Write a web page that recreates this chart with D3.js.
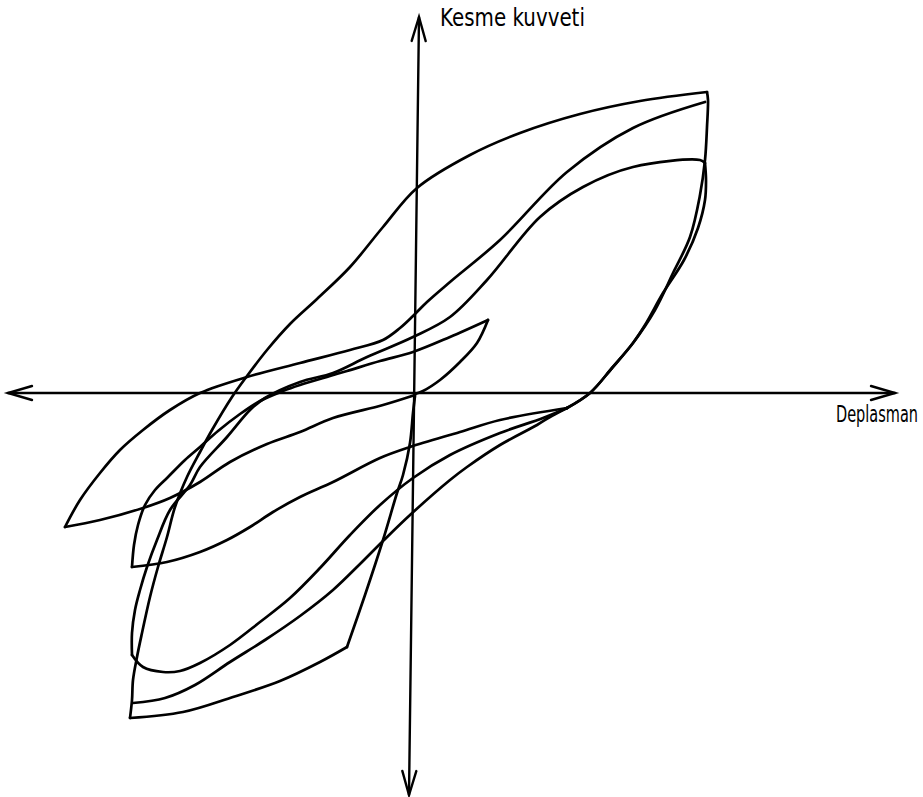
<!DOCTYPE html>
<html>
<head>
<meta charset="utf-8">
<script src="https://cdn.jsdelivr.net/npm/d3@7/dist/d3.min.js"></script>
<style>
  html, body { margin: 0; padding: 0; background: #fff; }
  svg { display: block; }
</style>
</head>
<body>
<svg id="chart" width="923" height="797"></svg>
<script>
// Shear force – displacement hysteresis of a cyclically loaded member.
// Every branch is a list of [displacement, shear force] pairs (arbitrary units).

const axisLabels = { x: "Deplasman", y: "Kesme kuvveti" };

// small positive excursion: unloading from its tip back to the origin
const smallTipToOrigin = [[7.5,7.3],[6.4,5.0],[4.7,3.1],[2.7,1.3],[1.0,0.2],[0.2,-0.1]];

// origin towards the first negative tip
const originToNegTip = [[0.2,-0.2],[-3.0,-1.2],[-8.0,-2.5],[-11.3,-3.9],[-14.6,-5.1],[-18.3,-6.9],
  [-21.3,-8.9],[-24.3,-10.5],[-27.0,-11.5],[-31.3,-12.7],[-34.8,-13.4]];

// negative tip reloaded up to the top peak (lower arrival)
const negTipToPeakB = [[-34.8,-13.4],[-33.3,-10.7],[-31.3,-8.0],[-29.3,-5.7],[-27.0,-3.7],[-24.3,-1.7],
  [-21.3,0],[-16.6,1.6],[-11.3,3.0],[-6.3,4.3],[-3.0,5.3],[-1.3,6.5],[0,7.7],[1.4,9.1],[3.7,11.1],
  [8.7,15.3],[15.4,22.1],[22.0,26.5],[29.2,29.1]];

// envelope loading branch from the lowest negative corner to the top peak
const envelopeUp = [[-28.3,-32.5],[-28.1,-30.7],[-28.0,-28.7],[-27.6,-26.4],[-27.1,-24.0],[-26.3,-20.4],
  [-25.5,-17.4],[-24.6,-14.4],[-23.8,-11.4],[-22.6,-8.4],[-21.3,-5.9],[-20.1,-3.7],[-18.1,-0.4],
  [-16.6,1.7],[-14.6,4.3],[-12.3,6.9],[-9.6,9.4],[-6.3,12.6],[-3.0,16.6],[0.4,20.5],[5.7,23.8],
  [10.7,26.0],[16.7,27.9],[22.7,29.2],[29.4,30.1]];

// unloading from the top peak
const peakAUnload = [[29.4,30.1],[29.5,29.3],[29.4,26.6],[29.2,23.3],[28.7,19.8],[27.7,15.6],[26.0,12.0],
  [24.2,8.3],[22.0,5.0],[19.9,2.5],[17.7,0],[15.4,-1.5]];

// loading from the rounded negative corner to the lower positive peak
const cornerToPeakC = [[-28.1,-26.2],[-28.1,-24.0],[-27.8,-21.7],[-27.3,-19.7],[-26.6,-17.4],[-25.6,-14.7],
  [-24.3,-11.7],[-22.3,-9.2],[-21.3,-7.4],[-18.6,-4.4],[-16.3,-1.7],[-14.8,-0.5],[-11.3,1.1],[-8.0,2.0],
  [-4.6,3.6],[0,5.6],[3.7,7.6],[7.4,11.3],[12.7,17.6],[17.0,20.6],[22.0,22.6],[28.7,23.3],[29.2,23.0]];

// unloading from the lower positive peak
const peakCUnload = [[29.2,23.0],[29.3,21.3],[29.2,19.3],[28.5,16.5],[27.1,13.3],[25.0,10.0],[23.2,6.8],
  [22.0,5.0],[19.9,2.5],[17.7,0],[15.4,-1.5]];

// three reversed branches fanning out below the displacement axis
const fanToMidCorner = [[15.4,-1.5],[8.7,-2.7],[4.7,-3.9],[-0.3,-5.4],[-3.3,-6.5],[-8.0,-8.9],
  [-11.3,-10.4],[-14.0,-11.9],[-16.3,-13.4],[-18.6,-14.7],[-21.3,-15.9],[-24.6,-16.9],[-28.1,-17.4]];

const fanToRoundCorner = [[15.4,-1.5],[13.0,-2.5],[8.7,-4.0],[3.7,-6.2],[0,-8.5],[-3.3,-11.2],[-6.3,-14.2],
  [-9.3,-17.5],[-12.3,-20.5],[-15.3,-22.9],[-18.3,-25.2],[-21.3,-27.0],[-23.3,-27.8],[-25.0,-27.9],
  [-27.0,-27.4],[-28.1,-26.2]];

const fanToLowCorner = [[15.4,-1.5],[13.7,-2.4],[12.4,-3.2],[8.7,-5.2],[5.4,-7.4],[3.7,-8.7],[-0.3,-12.2],
  [-3.0,-14.8],[-5.3,-17.1],[-8.0,-19.7],[-11.3,-22.3],[-14.8,-24.7],[-18.3,-26.9],[-21.8,-29.2],
  [-24.8,-30.5],[-28.0,-31.0]];

// reloading from the middle corner to the small positive tip
const midCornerToSmallTip = [[-28.1,-17.4],[-27.9,-15.2],[-27.5,-13.2],[-26.8,-11.2],[-25.8,-9.7],
  [-24.5,-8.4],[-22.8,-6.7],[-21.3,-5.4],[-19.5,-3.8],[-17.3,-2.1],[-15.3,-0.8],[-13.0,0.2],[-11.3,0.8],
  [-8.3,1.7],[-6.6,2.2],[-3.3,3.2],[0,4.1],[3.7,5.6],[7.5,7.3]];

// pinched drop from the origin to the knee, then out to the lowest negative corner
const originToKnee = [[0.2,-0.3],[0,-2.0],[-0.3,-5.0],[-1.0,-8.2],[-1.6,-10.0],[-3.0,-14.7],[-4.8,-20.2],
  [-6.6,-25.4]];
const kneeToLowest = [[-6.6,-25.4],[-9.3,-26.9],[-13.3,-28.8],[-18.0,-30.4],[-23.0,-31.9],[-28.3,-32.5]];

const branches = [smallTipToOrigin, originToNegTip, negTipToPeakB, envelopeUp, peakAUnload,
  cornerToPeakC, peakCUnload, fanToMidCorner, fanToRoundCorner, fanToLowCorner,
  midCornerToSmallTip, originToKnee, kneeToLowest];

// axis extents (arrow tips) in data units
const xAxisEnds = [-40.5, 48.2];
const yAxisEnds = [[0.6, 37.6], [-0.4, -40.2]];

const W = 923, H = 797;
const x = d3.scaleLinear().domain([-41, 51]).range([3, 923]);
const y = d3.scaleLinear().domain([-40.5, 39]).range([798, 3]);

const svg = d3.select("#chart");
svg.append("rect").attr("width", W).attr("height", H).attr("fill", "#fff");

const line = d3.line()
  .x(d => x(d[0])).y(d => y(d[1]))
  .curve(d3.curveCatmullRom.alpha(0.5));

// axes
const axes = svg.append("g").attr("stroke", "#000").attr("fill", "none")
  .attr("stroke-linecap", "round");
axes.append("line")
  .attr("x1", x(xAxisEnds[0])).attr("y1", y(0))
  .attr("x2", x(xAxisEnds[1])).attr("y2", y(0))
  .attr("stroke-width", 2.6);
axes.append("line")
  .attr("x1", x(yAxisEnds[0][0])).attr("y1", y(yAxisEnds[0][1]))
  .attr("x2", x(yAxisEnds[1][0])).attr("y2", y(yAxisEnds[1][1]))
  .attr("stroke-width", 2.4);

// open arrow heads
function arrowHead(tx, ty, dx, dy) {
  const len = 24, half = 7;
  const nx = -dy, ny = dx;
  const bx = tx - dx * len, by = ty - dy * len;
  axes.append("path")
    .attr("d", `M${bx + nx * half},${by + ny * half}L${tx},${ty}L${bx - nx * half},${by - ny * half}`)
    .attr("stroke-width", 2.4).attr("stroke-linejoin", "miter");
}
arrowHead(x(xAxisEnds[0]), y(0), -1, 0);
arrowHead(x(xAxisEnds[1]), y(0), 1, 0);
{
  const tx = x(yAxisEnds[0][0]), ty = y(yAxisEnds[0][1]);
  const bx = x(yAxisEnds[1][0]), by = y(yAxisEnds[1][1]);
  const L = Math.hypot(tx - bx, ty - by);
  arrowHead(tx, ty, (tx - bx) / L, (ty - by) / L);
  arrowHead(bx, by, (bx - tx) / L, (by - ty) / L);
}

// hysteresis branches
svg.append("g")
  .selectAll("path")
  .data(branches)
  .join("path")
  .attr("d", line)
  .attr("fill", "none")
  .attr("stroke", "#000")
  .attr("stroke-width", 2.7)
  .attr("stroke-linejoin", "round")
  .attr("stroke-linecap", "round");

// axis titles in narrow lettering: squeeze each title to its box width
function title(text, left, baseline, size, width) {
  const g = svg.append("g").attr("transform", `translate(${left},${baseline})`);
  const t = g.append("text")
    .attr("font-family", "'DejaVu Sans', sans-serif")
    .attr("font-size", size)
    .attr("fill", "#000")
    .text(text);
  const natural = t.node().getComputedTextLength();
  t.attr("transform", `scale(${width / natural},1)`);
}
title(axisLabels.y, 440, 26, 25, 145);
title(axisLabels.x, 836, 422, 23, 82);
</script>
</body>
</html>
